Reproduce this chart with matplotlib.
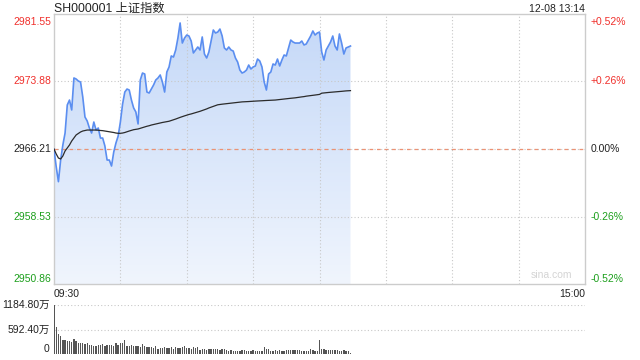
"""
Intraday minute chart of the SSE Composite (SH000001), sina style.
"""

import numpy as np
import matplotlib
matplotlib.use("Agg")
import matplotlib.pyplot as plt
import matplotlib.colors as mcolors
import matplotlib.transforms as mtransforms
from matplotlib.patches import PathPatch

FONT = ['Liberation Sans', 'Noto Sans CJK SC', 'DejaVu Sans']
plt.rcParams['font.family'] = FONT

title = "SH000001 上证指数"
stamp = "12-08 13:14"
prev_close = 2966.21
price_levels = [2981.55, 2973.88, 2966.21, 2958.53, 2950.86]
pct_labels = ["+0.52%", "+0.26%", "0.00%", "-0.26%", "-0.52%"]
vol_levels = [0, 592.40, 1184.80]
vol_labels = ["0", "592.40万", "1184.80万"]

# one value per minute, 09:30 .. 11:30 then 13:01 .. 13:14
prices = [
    2966.17, 2964.19, 2962.49, 2964.95, 2966.66, 2968.02, 2971.21, 2971.77, 2970.64, 2974.28,
    2974.16, 2973.93, 2973.82, 2972.12, 2969.84, 2969.39, 2968.59, 2968.02, 2969.27, 2968.36,
    2968.59, 2967.45, 2967.45, 2966.55, 2964.95, 2964.95, 2964.27, 2965.86, 2966.89, 2967.68,
    2969.27, 2971.32, 2972.68, 2973.02, 2972.91, 2971.77, 2970.87, 2970.41, 2969.05, 2974.05,
    2974.84, 2974.73, 2972.68, 2972.57, 2973.02, 2973.48, 2974.05, 2974.28, 2974.62, 2973.82,
    2972.68, 2974.96, 2975.53, 2976.78, 2976.66, 2977.46, 2978.82, 2980.53, 2978.25, 2978.82,
    2979.16, 2979.05, 2978.48, 2977.12, 2977.46, 2977.80, 2977.46, 2978.94, 2977.00, 2976.55,
    2977.23, 2978.48, 2979.73, 2979.39, 2979.50, 2979.84, 2979.05, 2977.69, 2977.46, 2977.80,
    2977.46, 2977.34, 2976.55, 2976.09, 2975.18, 2974.84, 2974.96, 2975.18, 2975.75, 2975.30,
    2975.53, 2975.64, 2976.43, 2976.21, 2975.53, 2973.82, 2972.91, 2974.73, 2974.96, 2975.87,
    2975.75, 2976.43, 2975.64, 2976.32, 2976.89, 2976.78, 2977.69, 2978.59, 2978.37, 2978.25,
    2978.25, 2978.25, 2978.48, 2978.03, 2978.14, 2978.59, 2979.05, 2979.62, 2979.16, 2979.39,
    2979.50, 2977.23, 2976.32, 2977.46, 2977.91, 2978.37, 2979.05, 2977.91, 2977.46, 2979.28,
    2978.25, 2977.00, 2977.69, 2977.80, 2977.91,
]

avg_prices = [
    2966.20, 2965.64, 2965.18, 2965.07, 2965.41, 2965.98, 2966.32, 2966.66, 2967.11, 2967.45,
    2967.80, 2967.97, 2968.14, 2968.25, 2968.31, 2968.36, 2968.36, 2968.36, 2968.36, 2968.36,
    2968.33, 2968.31, 2968.29, 2968.25, 2968.22, 2968.17, 2968.14, 2968.08, 2968.02, 2967.99,
    2967.99, 2968.02, 2968.08, 2968.17, 2968.25, 2968.33, 2968.40, 2968.44, 2968.48, 2968.56,
    2968.63, 2968.71, 2968.79, 2968.85, 2968.93, 2968.99, 2969.05, 2969.10, 2969.16, 2969.22,
    2969.27, 2969.31, 2969.36, 2969.44, 2969.52, 2969.61, 2969.71, 2969.80, 2969.89, 2969.97,
    2970.05, 2970.13, 2970.19, 2970.27, 2970.34, 2970.41, 2970.49, 2970.58, 2970.67, 2970.76,
    2970.87, 2970.96, 2971.05, 2971.14, 2971.23, 2971.27, 2971.30, 2971.33, 2971.37, 2971.39,
    2971.42, 2971.46, 2971.48, 2971.51, 2971.54, 2971.56, 2971.57, 2971.59, 2971.60, 2971.62,
    2971.64, 2971.65, 2971.66, 2971.67, 2971.69, 2971.71, 2971.72, 2971.73, 2971.75, 2971.76,
    2971.77, 2971.80, 2971.83, 2971.85, 2971.89, 2971.91, 2971.95, 2971.97, 2971.99, 2972.02,
    2972.06, 2972.09, 2972.13, 2972.16, 2972.21, 2972.24, 2972.27, 2972.31, 2972.34, 2972.38,
    2972.41, 2972.55, 2972.58, 2972.60, 2972.63, 2972.65, 2972.67, 2972.70, 2972.72, 2972.74,
    2972.76, 2972.79, 2972.81, 2972.83, 2972.84,
]

# volume per minute, in 万
volumes = [
    1184.8, 650, 488, 431, 341, 341, 325, 309, 284, 366,
    309, 268, 260, 268, 244, 268, 228, 211, 203, 203,
    219, 219, 244, 203, 228, 219, 228, 203, 268, 228,
    260, 268, 341, 203, 187, 219, 203, 203, 203, 179,
    244, 203, 179, 162, 162, 146, 203, 122, 138, 138,
    162, 146, 146, 162, 122, 162, 146, 146, 162, 187,
    138, 146, 122, 162, 138, 162,
    106, 122, 130, 106, 130, 130, 130, 130, 130, 106,
    130, 130, 106, 81, 98, 81, 81, 81, 81, 106,
    106, 81, 81, 81, 106, 81, 81, 81, 81, 179,
    130, 130, 81, 81, 106, 81, 106, 81, 81, 106,
    106, 106, 106, 106, 106, 106, 81, 81, 81, 81,
    130, 106, 81, 81, 349, 130, 130, 106, 106, 106,
    106, 106, 106, 81, 81, 106, 81, 65, 24,
]

RED = '#f0302c'
GREEN = '#1c9f1c'
TXT = '#222222'
GRID = '#c8c8c8'
FRAME = '#cccccc'

n = min(len(prices), len(avg_prices), len(volumes))
minutes = np.arange(n)
ymin, ymax = price_levels[-1], price_levels[0]

fig = plt.figure(figsize=(6.4, 3.6), dpi=100)
ax = fig.add_axes([54 / 640, 1 - 284 / 360, 531 / 640, 270 / 360])
axv = fig.add_axes([54 / 640, 1 - 354 / 360, 531 / 640, 49 / 360])

# gradient fill under the price line
poly = ax.fill_between(minutes, prices[:n], ymin, color='none', lw=0)
patch = PathPatch(poly.get_paths()[0], facecolor='none', edgecolor='none')
ax.add_patch(patch)
cmap = mcolors.LinearSegmentedColormap.from_list('fill', ['#c4d8f8', '#f0f5fd'])
grad = np.linspace(0, 1, 256).reshape(-1, 1)
img = ax.imshow(grad, cmap=cmap, aspect='auto', extent=[0, 240, ymin, ymax],
                origin='upper', zorder=1)
img.set_clip_path(patch)

ax.plot(minutes, prices[:n], color='#5b8ef0', lw=1.2, zorder=4)
ax.plot(minutes, avg_prices[:n], color='#2b2b2b', lw=0.9, zorder=5)

# grid
for m in range(30, 240, 30):
    ax.axvline(m, color=GRID, lw=0.8, ls=(0, (1, 2)), zorder=2)
for lv in price_levels[1:-1]:
    ax.axhline(lv, color=GRID, lw=0.8, ls=(0, (1, 2)), zorder=2)
ax.axhline(prev_close, color='#ec9274', lw=0.9, ls=(0, (3, 3)), zorder=3)

ax.set_xlim(0, 240)
ax.set_ylim(ymin, ymax)
ax.set_xticks([])
ax.set_yticks([])
for sp in ax.spines.values():
    sp.set_color(FRAME)
    sp.set_linewidth(1)

lab_colors = [RED, RED, TXT, GREEN, GREEN]
left_tr = mtransforms.blended_transform_factory(ax.transAxes, ax.transData)
top_tr = mtransforms.offset_copy(left_tr, fig=fig, y=-2.5, units='points')
for i, lv in enumerate(price_levels):
    va = 'center'
    tr = left_tr
    if i == 0:
        va = 'top'
        tr = top_tr
    elif i == len(price_levels) - 1:
        va = 'bottom'
    ax.text(-0.006, lv, f"{lv:.2f}", transform=tr, ha='right', va=va,
            fontsize=7.5, color=lab_colors[i])
    ax.text(1.01, lv, pct_labels[i], transform=tr, ha='left', va=va,
            fontsize=7.5, color=lab_colors[i])

ax.text(0.0, 1.008, title, transform=ax.transAxes, ha='left', va='baseline',
        fontsize=8.8, color=TXT)
ax.text(1.0, 1.008, stamp, transform=ax.transAxes, ha='right', va='baseline',
        fontsize=7.5, color=TXT)
ax.text(0.0, -0.02, "09:30", transform=ax.transAxes, ha='left', va='top',
        fontsize=7.5, color=TXT)
ax.text(1.0, -0.02, "15:00", transform=ax.transAxes, ha='right', va='top',
        fontsize=7.5, color=TXT)
ax.text(0.975, 0.015, "sina.com", transform=ax.transAxes, ha='right',
        va='bottom', fontsize=7.5, color='#d4d4d4', zorder=6)

# volume bars
axv.bar(minutes, volumes[:n], width=0.6, color='#555555', lw=0, zorder=3)
for lv in vol_levels[1:]:
    axv.axhline(lv, color=GRID, lw=0.8, ls=(0, (1, 2)), zorder=1)
axv.set_xlim(0, 240)
axv.set_ylim(0, vol_levels[-1])
axv.set_xticks([])
axv.set_yticks([])
for sp in axv.spines.values():
    sp.set_visible(False)
for lv, lab in zip(vol_levels, vol_labels):
    va = 'bottom' if lv == 0 else 'center'
    axv.text(-0.008, lv, lab, transform=axv.get_yaxis_transform(), ha='right',
             va=va, fontsize=7.5, color=TXT)

fig.savefig("out.png", dpi=100)
